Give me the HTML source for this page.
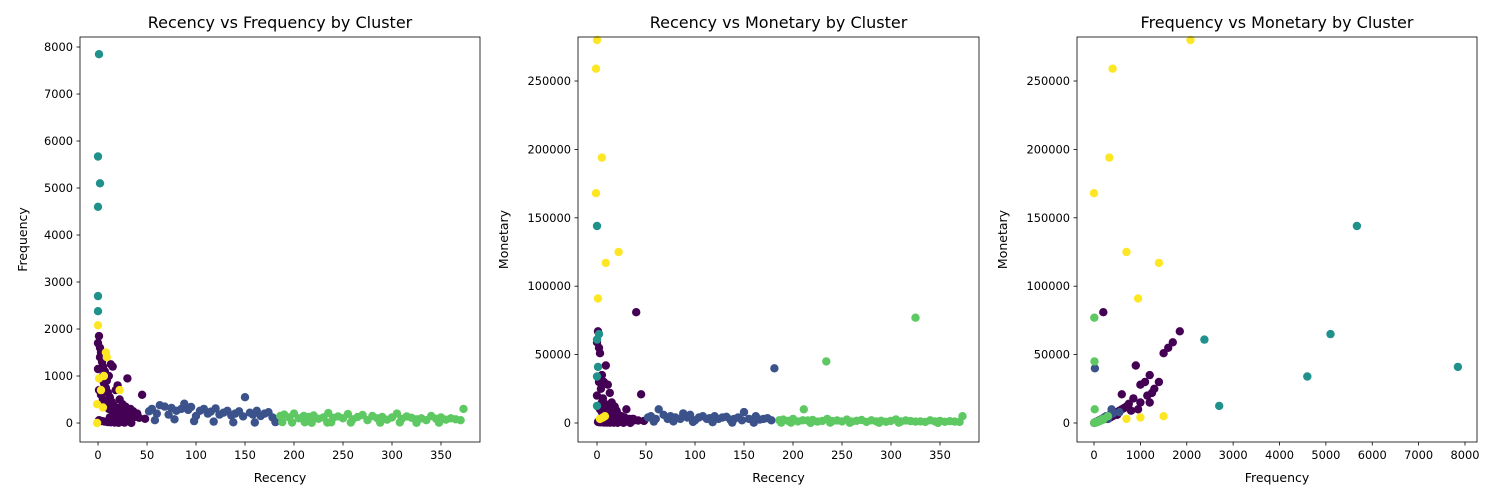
<!DOCTYPE html>
<html><head><meta charset="utf-8">
<style>
html,body{margin:0;padding:0;background:#fff;}
svg{display:block;font-family:"DejaVu Sans","Liberation Sans",sans-serif;}
</style></head>
<body>
<svg id="fig" width="1500" height="500" viewBox="0 0 1500 500" xmlns="http://www.w3.org/2000/svg"></svg>
<script>
// Customer data per cluster
const recency0 = [0,1,2,3,5,7,9,11,13,15, 18,20,22,25,28,30,33,36,40,45, 2,4,6,8,10,12,14,16,19,23, 26,31,35,38,42,48,0,1,3,5, 8,11,15,20,24,29,1,2,4,7, 10,13,17,21,27,34,37,12,16,5];
const frequency0 = [1700,1850,1600,1500,1200,1100,900,1000,1250,1200, 700,800,500,400,350,950,300,250,200,600, 1400,1300,850,750,650,550,450,380,320,280, 220,180,150,130,110,90,1150,700,600,500, 420,300,250,150,100,80,60,50,40,30, 20,15,10,5,8,3,200,120,90,1000];
const monetary0 = [59000,67000,55000,51000,35000,30000,42000,28000,22000,15000, 12000,9000,6000,5000,4000,10000,3000,3000,81000,21000, 30000,25000,18000,14000,11000,9000,7000,6000,5000,4000, 3500,3000,2500,2000,1800,1500,20000,12000,10000,8000, 6000,4000,3000,2000,1500,1000,800,600,500,400, 300,250,200,150,120,100,3000,2000,1500,15000];

const recency1 = [52,55,60,63,68,72,75,80,85,88, 92,95,100,104,108,112,115,120,124,128, 132,136,140,144,148,150,155,158,162,166, 170,174,178,181,58,78,98,118,138,160];
const frequency1 = [250,300,200,380,350,180,320,260,300,410, 280,340,150,260,300,200,240,310,180,220, 260,160,200,250,140,550,220,180,260,150, 200,230,120,20,60,80,40,30,15,10];
const monetary1 = [4000,5000,3000,10000,6000,3000,5000,4000,3000,7000, 4000,6000,2000,4000,5000,3000,3500,5000,3000,4000, 4500,2500,3000,4000,2000,8000,3000,2500,5000,2500, 3000,3500,2000,40000,1000,1200,800,600,300,200];

const recency3 = [186,190,195,200,205,210,215,220,225,230, 235,240,245,250,255,260,265,270,275,280, 285,290,295,300,305,310,315,320,325,330, 335,340,345,350,355,360,365,370,373,188, 198,218,238,258,288,308,348,211,234,325];
const frequency3 = [150,180,120,200,100,150,130,160,90,120, 210,110,140,100,190,80,130,170,60,150, 100,130,70,120,200,90,140,110,80,100, 60,150,90,120,70,100,80,60,300,20, 10,5,15,10,8,12,6,15,10,5];
const monetary3 = [2000,2500,1500,3000,1200,2000,1800,2200,1000,1500, 3000,1400,1800,1200,2500,1000,1600,2200,800,2000, 1200,1600,900,1500,2600,1100,1800,1400,1000,1200, 800,2000,1100,1500,900,1300,1000,800,5000,300, 200,100,250,150,120,200,100,10000,45000,77000];

const recency2 = [1,0,2,0,0,0];
const frequency2 = [7847,5670,5100,4600,2700,2380];
const monetary2 = [41000,144000,65000,34000,12500,61000];

const recency4 = [0,-1,5,-1,22,9,1,8,6,3];
const frequency4 = [2080,400,330,0,700,1400,950,1500,1000,700];
const monetary4 = [280000,259000,194000,168000,125000,117000,91000,5000,4000,3000];

const clusterColors = ["#440154","#3b528b","#21918c","#5ec962","#fde725"];
const ticksRecency = [0,50,100,150,200,250,300,350];
const ticksFreqY = [0,1000,2000,3000,4000,5000,6000,7000,8000];
const ticksMonetary = [0,50000,100000,150000,200000,250000];
const ticksFreqX = [0,1000,2000,3000,4000,5000,6000,7000,8000];

const groups=[[recency0,frequency0,monetary0,0],[recency1,frequency1,monetary1,1],[recency3,frequency3,monetary3,3],[recency2,frequency2,monetary2,2],[recency4,frequency4,monetary4,4]];
const recency=[],frequency=[],monetary=[],cluster=[];
groups.forEach(g=>{const n=Math.min(g[0].length,g[1].length,g[2].length);for(let i=0;i<n;i++){recency.push(g[0][i]);frequency.push(g[1][i]);monetary.push(g[2][i]);cluster.push(g[3]);}});

const NS="http://www.w3.org/2000/svg";
const fig=document.getElementById('fig');
function mk(tag,attrs,parent){const e=document.createElementNS(NS,tag);for(const k in attrs)e.setAttribute(k,attrs[k]);(parent||fig).appendChild(e);return e;}

const panels=[
 {name:"recency-frequency",L:80,R:480,title:"Recency vs Frequency by Cluster",xs:recency,ys:frequency,xd:[-18.4,389.8],yd:[-404,8213],xt:ticksRecency,yt:ticksFreqY,xl:"Recency",yl:"Frequency",ylx:27},
 {name:"recency-monetary",L:578,R:979,title:"Recency vs Monetary by Cluster",xs:recency,ys:monetary,xd:[-19.4,389.8],yd:[-13889,282164],xt:ticksRecency,yt:ticksMonetary,xl:"Recency",yl:"Monetary",ylx:508},
 {name:"frequency-monetary",L:1077,R:1477,title:"Frequency vs Monetary by Cluster",xs:frequency,ys:monetary,xd:[-367,8259],yd:[-13889,282164],xt:ticksFreqX,yt:ticksMonetary,xl:"Frequency",yl:"Monetary",ylx:1007}
];
const T=37,B=442;
panels.forEach(p=>{
  const g=mk('g',{});
  
  
  const sx=v=>p.L+(v-p.xd[0])/(p.xd[1]-p.xd[0])*(p.R-p.L);
  const sy=v=>B-(v-p.yd[0])/(p.yd[1]-p.yd[0])*(B-T);
  const pts=mk('g',{},g);
  
  
  for(let i=0;i<p.xs.length;i++){
    const c=mk('circle',{cx:sx(p.xs[i]).toFixed(1),cy:sy(p.ys[i]).toFixed(1),r:4.2,fill:clusterColors[cluster[i]]},pts);
    
    
  }
  const fr=mk('rect',{x:p.L,y:T,width:p.R-p.L,height:B-T,fill:'none',stroke:'#000','stroke-width':0.8},g);
  
  
  p.xt.forEach(t=>{const x=sx(t);mk('line',{x1:x,x2:x,y1:B,y2:B+3.5,stroke:'#000','stroke-width':0.8},g);
    const tx=mk('text',{x:x,y:B+17,'font-size':11.4,'text-anchor':'middle',fill:'#000'},g);tx.textContent=t;
    });
  p.yt.forEach(t=>{const y=sy(t);mk('line',{x1:p.L-3.5,x2:p.L,y1:y,y2:y,stroke:'#000','stroke-width':0.8},g);
    const tx=mk('text',{x:p.L-7,y:y+4,'font-size':11.4,'text-anchor':'end',fill:'#000'},g);tx.textContent=t;
    });
  const ti=mk('text',{x:(p.L+p.R)/2,y:28,'font-size':16,'text-anchor':'middle',fill:'#000'},g);ti.textContent=p.title;
  
  const xl=mk('text',{x:(p.L+p.R)/2,y:482,'font-size':12.5,'text-anchor':'middle',fill:'#000'},g);xl.textContent=p.xl;
  
  const cy=(T+B)/2;
  const yl=mk('text',{x:p.ylx,y:cy,'font-size':12.5,'text-anchor':'middle',fill:'#000',transform:`rotate(-90 ${p.ylx} ${cy})`},g);yl.textContent=p.yl;
  
});
</script>
</body></html>
